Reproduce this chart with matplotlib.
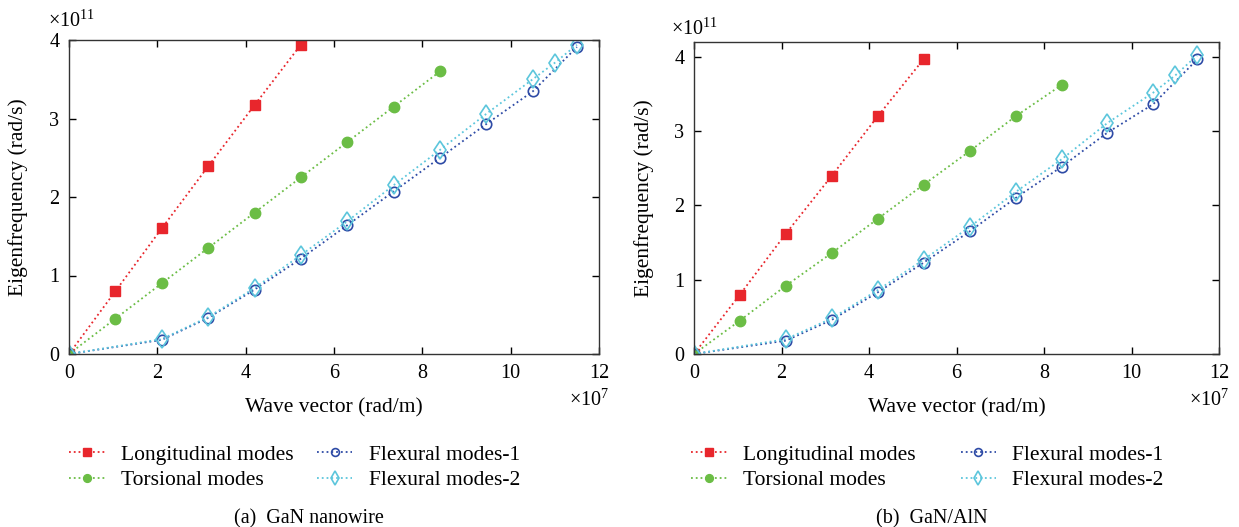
import matplotlib
matplotlib.use("Agg")
import matplotlib.pyplot as plt

plt.rcParams['font.family'] = ['Liberation Serif', 'DejaVu Serif']
plt.rcParams['mathtext.fontset'] = 'custom'
plt.rcParams['mathtext.rm'] = 'Liberation Serif'
plt.rcParams['mathtext.it'] = 'Liberation Serif:italic'

# Wave vector (x 1e7 rad/m)
x_long = [0, 1.05, 2.1, 3.15, 4.2, 5.25]
x_tors = [0, 1.05, 2.1, 3.15, 4.2, 5.25, 6.3, 7.35, 8.4]
x_flex1 = [0, 2.1, 3.15, 4.2, 5.25, 6.3, 7.35, 8.4, 9.45, 10.5, 11.5]
x_flex2 = [0, 2.1, 3.15, 4.2, 5.25, 6.3, 7.35, 8.4, 9.45, 10.5, 11.0, 11.5]

# Panel (a) GaN nanowire eigenfrequencies (x 1e11 rad/s)
a_long = [0, 0.80, 1.60, 2.39, 3.17, 3.94]
a_tors = [0, 0.45, 0.90, 1.35, 1.80, 2.25, 2.70, 3.15, 3.60]
a_flex1 = [0, 0.18, 0.46, 0.82, 1.215, 1.64, 2.07, 2.50, 2.93, 3.345, 3.91]
a_flex2 = [0, 0.19, 0.47, 0.84, 1.26, 1.69, 2.15, 2.60, 3.06, 3.50, 3.71, 3.94]

# Panel (b) GaN/AlN
b_long = [0, 0.80, 1.62, 2.40, 3.20, 3.97]
b_tors = [0, 0.45, 0.92, 1.36, 1.82, 2.28, 2.73, 3.20, 3.62]
b_flex1 = [0, 0.18, 0.46, 0.83, 1.23, 1.65, 2.10, 2.52, 2.98, 3.365, 3.965]
b_flex2 = [0, 0.20, 0.48, 0.86, 1.27, 1.71, 2.18, 2.62, 3.11, 3.52, 3.75, 4.02]

labels = ["Longitudinal modes", "Torsional modes", "Flexural modes-1", "Flexural modes-2"]
captions = ["(a)  GaN nanowire", "(b)  GaN/AlN"]

RED = "#E8262C"
GREEN = "#6BBD45"
BLUE = "#2E4BA6"
CYAN = "#5CC6DC"

W, H = 1239, 527
fig = plt.figure(figsize=(W / 100, H / 100), dpi=100)

def add_ax(l, r, t, b):
    return fig.add_axes([l / W, 1 - b / H, (r - l) / W, (b - t) / H])

def fx(px):
    return px / W

def fy(py):
    return 1 - py / H

axa = add_ax(69, 599, 40, 354)
axb = add_ax(694, 1219, 42, 354)

panels = [
    # ax, data..., ytop, ylabel x, x10^11 pos, x10^7 pos, legend x, colspacing, caption x
    (axa, a_long, a_tors, a_flex1, a_flex2, 4.0, 18, (48, 27), (589, 400), 69, 1.1, 309, captions[0]),
    (axb, b_long, b_tors, b_flex1, b_flex2, 4.2, 644, (671, 35), (1209, 400), 691, 2.1, 932, captions[1]),
]

for (ax, yl, yt, yf1, yf2, ytop, ylx, e11, e7, legx, cs, capx, cap) in panels:
    l1, = ax.plot(x_long, yl, ':', color=RED, lw=1.3, marker='s', ms=7,
                  mfc=RED, mec=RED, label=labels[0])
    l2, = ax.plot(x_tors, yt, ':', color=GREEN, lw=1.3, marker='o', ms=7.5,
                  mfc=GREEN, mec=GREEN, label=labels[1])
    l3, = ax.plot(x_flex1, yf1, ':', color=BLUE, lw=1.3, marker='o', ms=7.5,
                  mfc='none', mec=BLUE, mew=1.2, label=labels[2])
    l4, = ax.plot(x_flex2, yf2, ':', color=CYAN, lw=1.3, marker='d', ms=9.5,
                  mfc='none', mec=CYAN, mew=1.2, label=labels[3])
    ax.set_xlim(0, 12)
    ax.set_ylim(0, ytop)
    ax.set_xticks([0, 2, 4, 6, 8, 10, 12])
    ax.set_yticks([0, 1, 2, 3, 4])
    ax.tick_params(direction='in', top=True, right=True, length=5, width=1,
                   labelsize=14.5, pad=7)
    for s in ax.spines.values():
        s.set_linewidth(1.0)
        s.set_color('#333333')
    ax.set_xlabel("Wave vector (rad/m)", fontsize=15.5)
    ax.set_ylabel("Eigenfrequency (rad/s)", fontsize=15.5)
    bb = ax.get_position()
    # label positions in axes coordinates from pixel positions
    axw = bb.width * W
    axh = bb.height * H
    axl = bb.x0 * W
    axb_px = (1 - bb.y0) * H
    ax.xaxis.set_label_coords(0.5, -(408 - axb_px) / axh)
    ax.yaxis.set_label_coords((ylx - axl) / axw, 0.5)
    ax.xaxis.label.set_va('center')
    ax.yaxis.label.set_va('center')
    fig.text(fx(e11[0]), fy(e11[1]), r"$\times10^{11}$", fontsize=14.5,
             ha='left', va='baseline')
    fig.text(fx(e7[0]), fy(e7[1]), r"$\times10^{7}$", fontsize=14.5,
             ha='center', va='center')
    fig.legend(handles=[l1, l2, l3, l4], ncol=2, frameon=False,
               loc='center left', bbox_to_anchor=(fx(legx), fy(467.5)),
               fontsize=15.5, handlelength=1.65, handletextpad=0.75,
               columnspacing=cs, labelspacing=0.25, borderpad=0,
               borderaxespad=0, markerscale=0.75)
    fig.text(fx(capx), fy(523), cap, ha='center', va='baseline', fontsize=14.5)

fig.savefig("out.png", dpi=100)
